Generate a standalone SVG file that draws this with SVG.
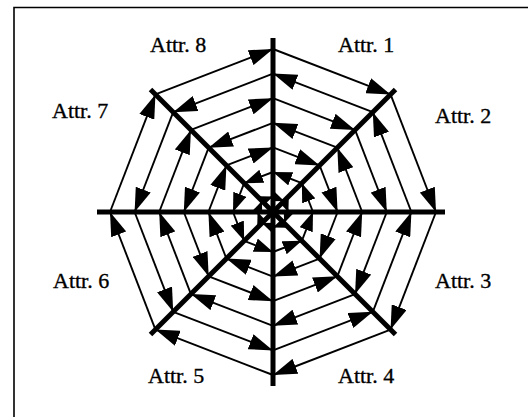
<svg xmlns="http://www.w3.org/2000/svg" width="528" height="417" viewBox="0 0 528 417">
<style>
.bg{fill:#ffffff}
.frame{fill:none;stroke:#000;stroke-width:1.6}
.seg{stroke:#000;stroke-width:1.9;fill:none}
.r1 line,.r2 line,.r3 line,.r4 line,.r5 line{marker-end:url(#a)}
.r6 line{marker-end:url(#s)}
.r7 line{marker-end:url(#xs)}
.spoke{stroke:#000;stroke-width:5;fill:none}
.lbl{font-family:"Liberation Serif","Times New Roman",serif;font-size:22px;fill:#000;stroke:#000;stroke-width:0.35}
</style>
<defs>
<marker id="a" viewBox="0 0 24 16" refX="24" refY="8" markerWidth="24" markerHeight="16" markerUnits="userSpaceOnUse" orient="auto"><path d="M0,0L24,8L0,16z" fill="#000"/></marker>
<marker id="s" viewBox="0 0 19 14" refX="19" refY="7" markerWidth="19" markerHeight="14" markerUnits="userSpaceOnUse" orient="auto"><path d="M0,0L19,7L0,14z" fill="#000"/></marker>
<marker id="xs" viewBox="0 0 12 10" refX="12" refY="5" markerWidth="12" markerHeight="10" markerUnits="userSpaceOnUse" orient="auto"><path d="M0,0L12,5L0,10z" fill="#000"/></marker>
</defs>
<rect class="bg" x="0" y="0" width="528" height="417"/>
<path class="frame" d="M14,418V7.5H529"/>
<g id="connectors" class="seg">
<g class="r1">
<line x1="273" y1="49" x2="390.56" y2="94.44"/>
<line x1="390.56" y1="94.44" x2="436" y2="212"/>
<line x1="436" y1="212" x2="390.56" y2="329.56"/>
<line x1="390.56" y1="329.56" x2="273" y2="375"/>
<line x1="273" y1="375" x2="155.44" y2="329.56"/>
<line x1="155.44" y1="329.56" x2="110" y2="212"/>
<line x1="110" y1="212" x2="155.44" y2="94.44"/>
<line x1="155.44" y1="94.44" x2="273" y2="49"/>
</g>
<g class="r2">
<line x1="273" y1="73.6" x2="173.19" y2="112.19"/>
<line x1="173.19" y1="112.19" x2="134.6" y2="212"/>
<line x1="134.6" y1="212" x2="173.19" y2="311.81"/>
<line x1="173.19" y1="311.81" x2="273" y2="350.4"/>
<line x1="273" y1="350.4" x2="372.81" y2="311.81"/>
<line x1="372.81" y1="311.81" x2="411.4" y2="212"/>
<line x1="411.4" y1="212" x2="372.81" y2="112.19"/>
<line x1="372.81" y1="112.19" x2="273" y2="73.6"/>
</g>
<g class="r3">
<line x1="273" y1="98.2" x2="355.07" y2="129.93"/>
<line x1="355.07" y1="129.93" x2="386.8" y2="212"/>
<line x1="386.8" y1="212" x2="355.07" y2="294.07"/>
<line x1="355.07" y1="294.07" x2="273" y2="325.8"/>
<line x1="273" y1="325.8" x2="190.93" y2="294.07"/>
<line x1="190.93" y1="294.07" x2="159.2" y2="212"/>
<line x1="159.2" y1="212" x2="190.93" y2="129.93"/>
<line x1="190.93" y1="129.93" x2="273" y2="98.2"/>
</g>
<g class="r4">
<line x1="273" y1="122.8" x2="208.67" y2="147.67"/>
<line x1="208.67" y1="147.67" x2="183.8" y2="212"/>
<line x1="183.8" y1="212" x2="208.67" y2="276.33"/>
<line x1="208.67" y1="276.33" x2="273" y2="301.2"/>
<line x1="273" y1="301.2" x2="337.33" y2="276.33"/>
<line x1="337.33" y1="276.33" x2="362.2" y2="212"/>
<line x1="362.2" y1="212" x2="337.33" y2="147.67"/>
<line x1="337.33" y1="147.67" x2="273" y2="122.8"/>
</g>
<g class="r5">
<line x1="273" y1="147.4" x2="319.59" y2="165.41"/>
<line x1="319.59" y1="165.41" x2="337.6" y2="212"/>
<line x1="337.6" y1="212" x2="319.59" y2="258.59"/>
<line x1="319.59" y1="258.59" x2="273" y2="276.6"/>
<line x1="273" y1="276.6" x2="226.41" y2="258.59"/>
<line x1="226.41" y1="258.59" x2="208.4" y2="212"/>
<line x1="208.4" y1="212" x2="226.41" y2="165.41"/>
<line x1="226.41" y1="165.41" x2="273" y2="147.4"/>
</g>
<g class="r6">
<line x1="273" y1="172" x2="244.15" y2="183.15"/>
<line x1="244.15" y1="183.15" x2="233" y2="212"/>
<line x1="233" y1="212" x2="244.15" y2="240.85"/>
<line x1="244.15" y1="240.85" x2="273" y2="252"/>
<line x1="273" y1="252" x2="301.85" y2="240.85"/>
<line x1="301.85" y1="240.85" x2="313" y2="212"/>
<line x1="313" y1="212" x2="301.85" y2="183.15"/>
<line x1="301.85" y1="183.15" x2="273" y2="172"/>
</g>
<g class="r7">
<line x1="273" y1="196.6" x2="284.11" y2="200.89"/>
<line x1="284.11" y1="200.89" x2="288.4" y2="212"/>
<line x1="288.4" y1="212" x2="284.11" y2="223.11"/>
<line x1="284.11" y1="223.11" x2="273" y2="227.4"/>
<line x1="273" y1="227.4" x2="261.89" y2="223.11"/>
<line x1="261.89" y1="223.11" x2="257.6" y2="212"/>
<line x1="257.6" y1="212" x2="261.89" y2="200.89"/>
<line x1="261.89" y1="200.89" x2="273" y2="196.6"/>
</g>
</g>
<g id="axes" class="spoke">
<line x1="273" y1="38" x2="273" y2="386"/>
<line x1="97" y1="212" x2="445" y2="212"/>
<line x1="150.5" y1="89.5" x2="395.5" y2="334.5"/>
<line x1="395.5" y1="89.5" x2="150.5" y2="334.5"/>
</g>
<g id="attr1"><text class="lbl" x="338" y="52">Attr. 1</text></g>
<g id="attr2"><text class="lbl" x="435" y="123">Attr. 2</text></g>
<g id="attr3"><text class="lbl" x="435" y="288">Attr. 3</text></g>
<g id="attr4"><text class="lbl" x="338" y="383">Attr. 4</text></g>
<g id="attr5"><text class="lbl" x="148" y="383">Attr. 5</text></g>
<g id="attr6"><text class="lbl" x="53" y="288">Attr. 6</text></g>
<g id="attr7"><text class="lbl" x="52" y="118">Attr. 7</text></g>
<g id="attr8"><text class="lbl" x="150" y="52">Attr. 8</text></g>
</svg>
